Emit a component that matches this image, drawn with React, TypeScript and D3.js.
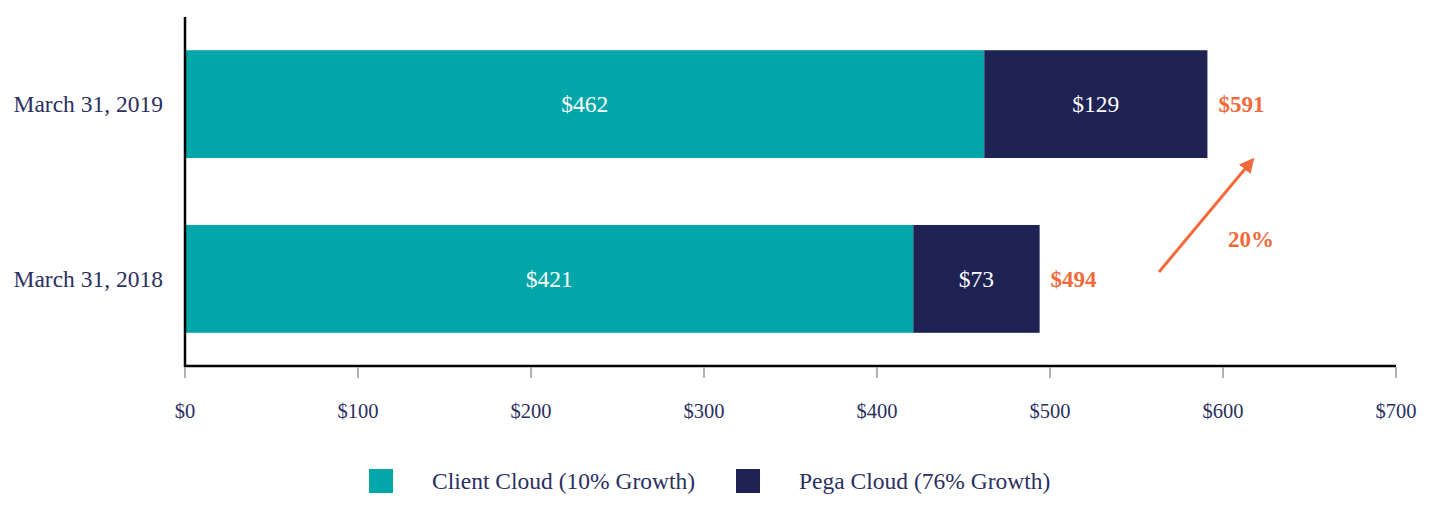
import React from "react";
import * as d3 from "d3";

const categories = ["March 31, 2019", "March 31, 2018"];
const clientCloud = [462, 421];
const pegaCloud = [129, 73];
const totals = [591, 494];
const xTicks = [0, 100, 200, 300, 400, 500, 600, 700];
const seriesNames = ["Client Cloud (10% Growth)", "Pega Cloud (76% Growth)"];
const growthLabel = "20%";

const W = 1445;
const H = 526;
const TEAL = "#00a6a8";
const NAVY = "#1f2353";
const ORANGE = "#f26a3b";
const TEXT = "#2b3061";
const FONT = "'Liberation Serif', 'Times New Roman', serif";
const FS = 23.5;

export default function App() {
  const x = d3.scaleLinear().domain([0, 700]).range([185, 1396]);
  const y = d3.scaleBand().domain(categories).range([17, 366]).paddingInner(0.383).paddingOuter(0.19);
  const axisY = 366;
  const bw = y.bandwidth();

  return (
    <svg width={W} height={H} style={{ position: "absolute", left: 0, top: 0, background: "#fff" }} fontFamily={FONT}>
      <defs>
        <marker id="arrowhead" viewBox="0 0 10 10" refX="8" refY="5" markerWidth="5" markerHeight="5" orient="auto">
          <path d="M0,0 L10,5 L0,10 z" fill={ORANGE} />
        </marker>
      </defs>
      {categories.map((c, i) => {
        const y0 = y(c)!;
        const cx = x(0), cw = x(clientCloud[i]) - x(0);
        const px = x(clientCloud[i]), pw = x(clientCloud[i] + pegaCloud[i]) - x(clientCloud[i]);
        const mid = y0 + bw / 2;
        return (
          <g key={c}>
            <rect x={cx} y={y0} width={cw} height={bw} fill={TEAL} />
            <rect x={px} y={y0} width={pw} height={bw} fill={NAVY} />
            <text x={cx + cw / 2} y={mid} dy="0.35em" textAnchor="middle" fill="#fff" fontSize={FS}>${clientCloud[i]}</text>
            <text x={px + pw / 2} y={mid} dy="0.35em" textAnchor="middle" fill="#fff" fontSize={FS}>${pegaCloud[i]}</text>
            <text x={x(totals[i]) + 11} y={mid} dy="0.35em" textAnchor="start" fill={ORANGE} fontSize={FS - 0.5} fontWeight="bold">${totals[i]}</text>
            <text x={163} y={mid} dy="0.35em" textAnchor="end" fill={TEXT} fontSize={FS}>{c}</text>
          </g>
        );
      })}
      {/* axes */}
      <line x1={x(0)} x2={x(0)} y1={17} y2={axisY + 1} stroke="#000" strokeWidth={2.5} />
      <line x1={x(0) - 1} x2={x(700)} y1={axisY} y2={axisY} stroke="#000" strokeWidth={2.5} />
      {xTicks.map((t) => (
        <g key={t}>
          <line x1={x(t)} x2={x(t)} y1={axisY + 1} y2={axisY + 12} stroke="#999" strokeWidth={1.5} />
          <text x={x(t)} y={418} textAnchor="middle" fill={TEXT} fontSize={20.5}>${t}</text>
        </g>
      ))}
      {/* growth arrow */}
      <line x1={x(563)} y1={272} x2={x(617)} y2={160} stroke={ORANGE} strokeWidth={3} markerEnd="url(#arrowhead)" />
      <text x={1228} y={247} fill={ORANGE} fontSize={FS - 0.5} fontWeight="bold">{growthLabel}</text>
      {/* legend */}
      <rect x={369} y={469} width={24} height={24} fill={TEAL} />
      <text x={432} y={489} fill={TEXT} fontSize={FS}>{seriesNames[0]}</text>
      <rect x={736} y={469} width={24} height={24} fill={NAVY} />
      <text x={799} y={489} fill={TEXT} fontSize={FS}>{seriesNames[1]}</text>
    </svg>
  );
}
